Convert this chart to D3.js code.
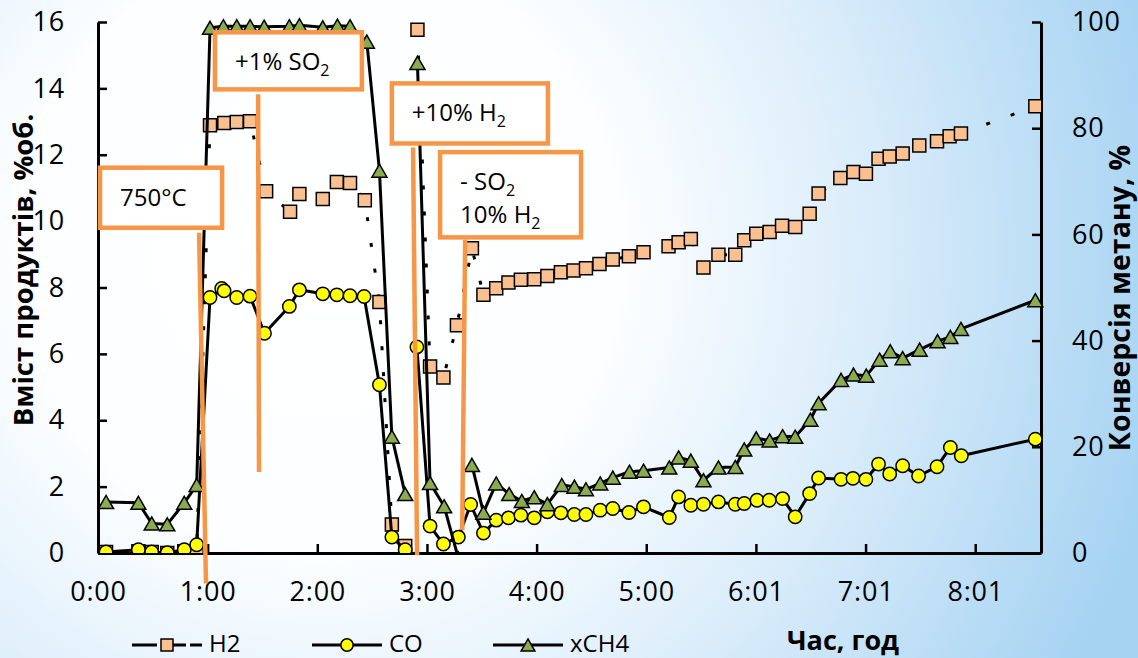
<!DOCTYPE html>
<html>
<head>
<meta charset="utf-8">
<script src="https://cdn.jsdelivr.net/npm/d3@7"></script>
<style>
  body { margin: 0; }
  text { font-family: "Open Sans", sans-serif; fill: #000; }
</style>
</head>
<body>
<script>
// time in minutes from start, null value = break in the line
const h2Time = [4.4, 22.1, 29.4, 37.9, 47.2, 54.0, 61.3, 69.1, 75.9, 83.2, 92.0, 105.1, 110.2, 123.0, 130.7,
  137.9, 146.0, 154.0, 160.8, 168.1, 171, 174.8, 181.7, 189.0, 196.4, 204.6, 210.9, 217.9, 224.6, 231.4,
  238.7, 245.9, 253.3, 260.2, 267.0, 274.4, 281.7, 290.5, 298.5, 312.2, 317.7, 324.4, 331.3, 339.5, 348.7,
  353.6, 360.2, 367.5, 374.3, 381.5, 389.4, 394.3, 406.2, 413.4, 420.2, 427.1, 433.2, 440.3, 449.4, 459.1,
  466.0, 472.2, 512.9];
const h2Val = [0.03, 0.05, 0.03, 0.0, 0.05, 0.05, 12.89, 12.96, 12.99, 13.01, 10.9, 10.28, 10.82, 10.67, 11.18,
  11.15, 10.63, 7.56, 0.86, 0.21, null, 15.77, 5.62, 5.29, 6.86, 9.18, 7.78, 7.98, 8.15, 8.23,
  8.25, 8.35, 8.46, 8.51, 8.58, 8.71, 8.84, 8.94, 9.06, 9.24, 9.36, 9.46, 8.6, 8.99, 8.99,
  9.42, 9.62, 9.67, 9.86, 9.82, 10.22, 10.83, 11.30, 11.48, 11.43, 11.88, 11.95, 12.04, 12.28, 12.41,
  12.56, 12.64, 13.46];

const coTime = [4.4, 22.1, 29.4, 37.9, 47.2, 54.0, 61.3, 67.7, 69.0, 75.9, 83.2, 91.1, 104.7, 110.2, 123.0,
  130.7, 137.9, 145.6, 154.0, 160.8, 168.1, 171, 174.5, 181.7, 189.0, 197.2, 203.9, 210.9, 217.9, 224.6,
  231.4, 238.7, 245.9, 253.3, 260.6, 267.0, 274.8, 281.7, 290.5, 298.5, 312.6, 317.7, 324.4, 331.3, 339.5,
  348.7, 353.6, 360.6, 367.3, 374.6, 381.5, 389.4, 394.3, 406.6, 413.1, 420.2, 427.1, 433.2, 440.3, 449.0,
  459.1, 466.4, 472.4, 512.9];
const coVal = [0.03, 0.1, 0.03, 0.01, 0.1, 0.25, 7.7, 7.97, 7.9, 7.7, 7.74, 6.62, 7.43, 7.93, 7.81,
  7.78, 7.75, 7.73, 5.07, 0.48, 0.1, null, 6.21, 0.81, 0.27, 0.48, 1.46, 0.6, 0.99, 1.06,
  1.14, 1.06, 1.24, 1.21, 1.16, 1.16, 1.29, 1.34, 1.22, 1.39, 1.07, 1.69, 1.44, 1.47, 1.54,
  1.47, 1.49, 1.59, 1.59, 1.64, 1.09, 1.79, 2.26, 2.22, 2.25, 2.22, 2.68, 2.38, 2.63, 2.32,
  2.6, 3.18, 2.93, 3.43];

const ch4Time = [4.4, 22.1, 29.4, 37.9, 47.2, 54.0, 61.3, 68.6, 75.9, 83.2, 90.9, 104.7, 110.2, 123.0, 131.0,
  137.9, 147.1, 154.0, 160.8, 168.1, 171, 174.8, 181.7, 189.4, 197.2, 200, 204.6, 210.9, 217.9, 225.0,
  231.9, 238.7, 245.9, 253.8, 260.7, 267.0, 274.8, 281.7, 290.8, 298.5, 312.6, 317.7, 324.4, 331.3, 339.5,
  348.7, 353.6, 360.2, 367.5, 374.6, 381.5, 389.8, 394.3, 406.6, 413.4, 420.4, 427.7, 433.5, 440.3, 449.6,
  459.4, 466.4, 472.2, 512.9];
const ch4Val = [9.6, 9.45, 5.55, 5.4, 9.45, 12.8, 98.9, 99.2, 99.2, 99.2, 99.1, 99.2, 99.4, 99.0, 99.3,
  99.2, 96.3, 72.0, 21.9, 11.1, null, 92.3, 13.2, 8.8, -1, null, 16.6, 7.6, 13.1, 11.1,
  9.8, 10.5, 9.2, 12.8, 12.5, 12.0, 13.1, 14.2, 15.3, 15.5, 16.1, 18.0, 17.4, 13.7, 16.1,
  16.2, 19.5, 21.6, 21.2, 22.0, 21.9, 25.1, 28.2, 32.6, 33.6, 33.4, 36.4, 38.0, 36.7, 38.3,
  39.9, 40.7, 42.2, 47.6];

const xTicks = [0, 60, 120, 180, 240, 300, 360, 420, 480];
const xTickLabels = ["0:00", "1:00", "2:00", "3:00", "4:00", "5:00", "6:01", "7:01", "8:01"];
const leftTicks = [0, 2, 4, 6, 8, 10, 12, 14, 16];
const rightTicks = [0, 20, 40, 60, 80, 100];

// callouts: box (minutes, left-axis value) and leader line
const noteText = ["750°C", "+1% SO_2", "+10% H_2", "- SO_2\n10% H_2"];
const noteBox = [[1.1, 67.9, 11.61, 9.80], [64.0, 144.4, 15.69, 13.97], [160.8, 246.2, 14.15, 12.34], [187.2, 264.3, 12.08, 9.51]];
const noteLine = [[55.3, 9.65, 59.1, -0.92], [87.6, 13.82, 88.1, 2.44], [172.4, 12.22, 174.6, -0.07], [200.9, 9.44, 199.3, 0.69]];

const margin = { top: 22, right: 97, bottom: 105, left: 98 },
  width = 1138 - margin.left - margin.right,
  height = 658 - margin.top - margin.bottom;

const svg = d3.select("body").append("svg").attr("width", 1138).attr("height", 658);

const defs = svg.append("defs");
const grad = defs.append("radialGradient").attr("id", "bg")
  .attr("gradientUnits", "userSpaceOnUse")
  .attr("cx", 320).attr("cy", 250).attr("r", 860);
[[0, "#ffffff"], [0.35, "#fcfeff"], [0.65, "#d9ecfa"], [1, "#a6d3f2"]].forEach(s =>
  grad.append("stop").attr("offset", s[0]).attr("stop-color", s[1]));
svg.append("rect").attr("width", 1138).attr("height", 658).attr("fill", "url(#bg)");

defs.append("clipPath").attr("id", "plotclip").append("rect")
  .attr("x", 0).attr("y", -1).attr("width", width).attr("height", height + 1);
defs.append("clipPath").attr("id", "markclip").append("rect")
  .attr("x", -12).attr("y", -12).attr("width", width + 24).attr("height", height + 12);

const g = svg.append("g").attr("transform", `translate(${margin.left},${margin.top})`);

const x = d3.scaleLinear().domain([0, 516]).range([0, width]);
const yL = d3.scaleLinear().domain([0, 16]).range([height, 0]);
const yR = d3.scaleLinear().domain([0, 100]).range([height, 0]);

// axes, ticks pointing inside
const xAxis = d3.axisBottom(x).tickValues(xTicks)
  .tickFormat((d, i) => xTickLabels[i]).tickSizeInner(-9).tickSizeOuter(0).tickPadding(29);
const gx = g.append("g").attr("transform", `translate(0,${height})`).call(xAxis);
const gl = g.append("g").call(d3.axisLeft(yL).tickValues(leftTicks).tickSizeInner(-9).tickSizeOuter(0).tickPadding(33));
const gr = g.append("g").attr("transform", `translate(${width},0)`)
  .call(d3.axisRight(yR).tickValues(rightTicks).tickSizeInner(-9).tickSizeOuter(0).tickPadding(31));
[gx, gl, gr].forEach(a => {
  a.select(".domain").attr("stroke", "#000").attr("stroke-width", 3);
  a.selectAll(".tick line").attr("stroke", "#000").attr("stroke-width", 2.5);
  a.selectAll(".tick text").style("font-size", "27px").style("letter-spacing", "0.8px").attr("font-family", null);
});

// triangle centred on its bounding box, like the spreadsheet marker
const triangle = { draw(ctx, size) {
  const w = Math.sqrt(size * 2.3) / 2, h = w * 0.87;
  ctx.moveTo(0, -h); ctx.lineTo(w, h); ctx.lineTo(-w, h); ctx.closePath();
} };

const toPts = (ts, vs) => d3.zip(ts, vs).map(([t, v]) => ({ t, v }));
const lineFor = (ys) => d3.line().defined(d => d.v !== null)
  .x(d => x(d.t)).y(d => ys(d.v));

const series = [
  { pts: toPts(h2Time, h2Val), ys: yL, dash: "4,22", sym: d3.symbolSquare, size: 169, fill: "#fac090" },
  { pts: toPts(coTime, coVal), ys: yL, dash: null, sym: d3.symbolCircle, size: 140, fill: "#ffff00" },
  { pts: toPts(ch4Time, ch4Val), ys: yR, dash: null, sym: triangle, size: 98, fill: "#8aab4e" }
];

series.forEach(s => {
  g.append("path").datum(s.pts)
    .attr("clip-path", "url(#plotclip)")
    .attr("d", lineFor(s.ys))
    .attr("fill", "none").attr("stroke", "#000").attr("stroke-width", 3)
    .attr("stroke-linejoin", "round")
    .attr("stroke-dasharray", s.dash);
  g.append("g").attr("clip-path", "url(#markclip)")
    .selectAll("path").data(s.pts.filter(d => d.v !== null)).enter()
    .append("path")
    .attr("transform", d => `translate(${x(d.t)},${s.ys(d.v)})`)
    .attr("d", d3.symbol(s.sym, s.size))
    .attr("fill", s.fill).attr("stroke", "#000").attr("stroke-width", 1.5);
});

// callouts
const orange = "#f79646";
noteLine.forEach(l => {
  g.append("line")
    .attr("x1", x(l[0])).attr("y1", yL(l[1])).attr("x2", x(l[2])).attr("y2", yL(l[3]))
    .attr("stroke", orange).attr("stroke-width", 4.5);
});
noteBox.forEach((b, i) => {
  const bx = x(b[0]), by = yL(b[2]);
  g.append("rect").attr("x", bx).attr("y", by)
    .attr("width", x(b[1]) - bx).attr("height", yL(b[3]) - by)
    .attr("fill", "#fff").attr("stroke", orange).attr("stroke-width", 4.5);
  noteText[i].split("\n").forEach((row, k) => {
    const t = g.append("text").attr("x", bx + 20).attr("y", by + 38 + k * 33).style("font-size", "24px");
    row.split("_").forEach((part, j) => {
      if (j === 0) t.append("tspan").text(part);
      else {
        t.append("tspan").attr("dy", 6).style("font-size", "16px").text(part[0]);
        if (part.length > 1) t.append("tspan").attr("dy", -6).text(part.slice(1));
      }
    });
  });
});

// axis titles
svg.append("text").attr("transform", "translate(33,270) rotate(-90)")
  .attr("text-anchor", "middle").style("font-size", "27.5px").style("font-weight", "bold")
  .text("Вміст продуктів, %об.");
svg.append("text").attr("transform", "translate(1130,298) rotate(-90)")
  .attr("text-anchor", "middle").style("font-size", "28.5px").style("font-weight", "bold")
  .text("Конверсія метану, %");
svg.append("text").attr("x", 843).attr("y", 650)
  .attr("text-anchor", "middle").style("font-size", "27px").style("font-weight", "bold")
  .text("Час, год");

// legend
const legendNames = ["H2", "CO", "xCH4"];
const legendX = [132, 312, 493];
series.forEach((s, i) => {
  const lg = svg.append("g").attr("transform", `translate(${legendX[i]},645)`);
  lg.append("line").attr("x1", 0).attr("x2", 70).attr("stroke", "#000").attr("stroke-width", 3)
    .attr("stroke-dasharray", s.dash ? "25,4" : null);
  lg.append("path").attr("transform", "translate(35,0)").attr("d", d3.symbol(s.sym, s.size * 0.85))
    .attr("fill", s.fill).attr("stroke", "#000").attr("stroke-width", 1.5);
  lg.append("text").attr("x", 77).attr("y", 7).style("font-size", "24px").text(legendNames[i]);
});
</script>
</body>
</html>
